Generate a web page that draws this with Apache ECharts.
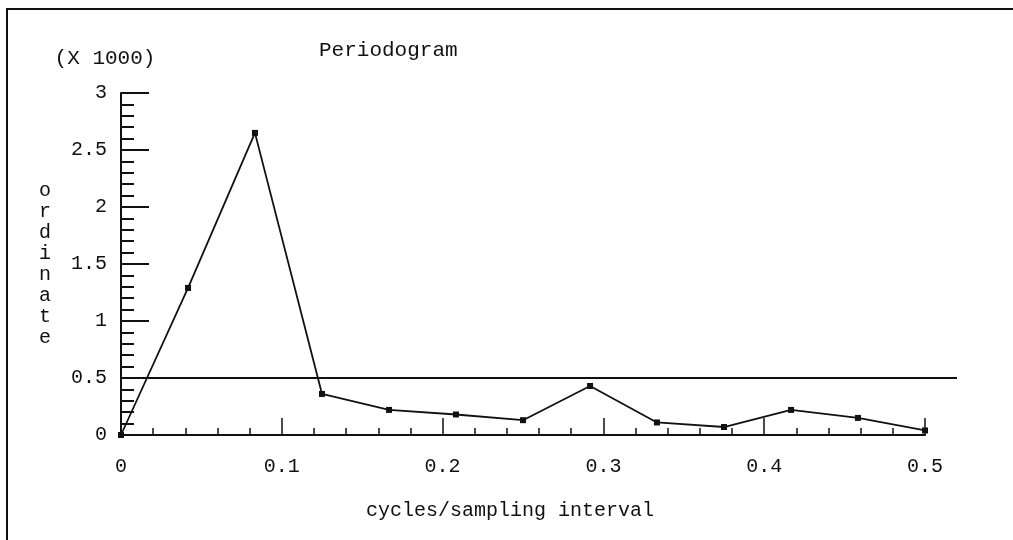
<!DOCTYPE html>
<html>
<head>
<meta charset="utf-8">
<script src="https://cdn.jsdelivr.net/npm/echarts@6/dist/echarts.min.js"></script>
<style>
  html, body { margin: 0; padding: 0; background: #fff; }
  #chart { width: 1013px; height: 540px; }
</style>
</head>
<body>
<div id="chart"></div>
<script>
// Periodogram: frequency (cycles/sampling interval) vs ordinate (x 1000)
const frequencies = [0, 0.0417, 0.0833, 0.125, 0.1667, 0.2083, 0.25, 0.2917, 0.3333, 0.375, 0.4167, 0.4583, 0.5];
const ordinateThousands = [0, 1.29, 2.65, 0.36, 0.22, 0.18, 0.13, 0.43, 0.11, 0.07, 0.22, 0.15, 0.04];
const thresholdX = [0, 0.52];
const thresholdY = [0.5, 0.5];
const titleText = 'Periodogram';
const yScaleText = '(X 1000)';
const yName = 'ordinate';
const xName = 'cycles/sampling interval';

const FONT = '"Liberation Mono", "DejaVu Sans Mono", monospace';
const INK = '#111';

const chart = echarts.init(document.getElementById('chart'), null, { renderer: 'canvas' });

const option = {
  backgroundColor: '#fff',
  animation: false,
  title: {
    text: titleText,
    left: 314,
    top: 35,
    textStyle: { fontFamily: FONT, fontSize: 21, fontWeight: 'normal', color: INK }
  },
  graphic: [{
    type: 'polyline',
    shape: { points: [[7, 540], [7, 9], [1013, 9]] },
    style: { stroke: INK, lineWidth: 2, fill: null },
    silent: true
  }],
  grid: [
    { left: 121, top: 93, width: 804, height: 342 },
    { left: 121, top: 93, width: 836, height: 342 }
  ],
  xAxis: [
    {
      type: 'value', gridIndex: 0, min: 0, max: 0.5, interval: 0.1,
      axisLine: { show: true, lineStyle: { color: INK, width: 2 } },
      axisTick: { show: true, inside: true, length: 17, lineStyle: { color: INK, width: 1.5 } },
      minorTick: { show: true, splitNumber: 5, length: 7, lineStyle: { color: INK, width: 1.5 } },
      splitLine: { show: false },
      axisLabel: { fontFamily: FONT, fontSize: 20, color: INK, margin: 22 },
      name: xName, nameLocation: 'middle', nameGap: 66,
      nameTextStyle: { fontFamily: FONT, fontSize: 20, color: INK, padding: [0, 26, 0, 0] }
    },
    {
      type: 'value', gridIndex: 1, min: 0, max: 0.52, show: false
    }
  ],
  yAxis: [
    {
      type: 'value', gridIndex: 0, min: 0, max: 3, interval: 0.5,
      axisLine: { show: true, lineStyle: { color: INK, width: 2 } },
      axisTick: { show: true, inside: true, length: 28, lineStyle: { color: INK, width: 2 } },
      minorTick: { show: true, splitNumber: 5, length: 13, lineStyle: { color: INK, width: 2 } },
      splitLine: { show: false },
      axisLabel: { fontFamily: FONT, fontSize: 20, color: INK, margin: 14 },
      name: yScaleText, nameLocation: 'end', nameGap: 24,
      nameTextStyle: { fontFamily: FONT, fontSize: 21, color: INK, padding: [0, 32, 0, 0] }
    },
    {
      type: 'value', gridIndex: 1, min: 0, max: 3,
      axisLine: { show: false }, axisTick: { show: false }, axisLabel: { show: false },
      splitLine: { show: false },
      name: yName.split('').join('\n'), nameLocation: 'middle', nameRotate: 0, nameGap: 70,
      nameTextStyle: { fontFamily: FONT, fontSize: 20, color: INK, lineHeight: 21, align: 'right' }
    }
  ],
  series: [
    {
      type: 'line', xAxisIndex: 1, yAxisIndex: 1,
      data: thresholdX.map((x, i) => [x, thresholdY[i]]),
      symbol: 'none',
      lineStyle: { color: INK, width: 2 },
      silent: true
    },
    {
      type: 'line', xAxisIndex: 0, yAxisIndex: 0,
      data: frequencies.map((f, i) => [f, ordinateThousands[i]]),
      symbol: 'rect', symbolSize: 6,
      itemStyle: { color: INK },
      lineStyle: { color: INK, width: 1.8 },
      silent: true
    }
  ]
};

chart.setOption(option);
</script>
</body>
</html>
